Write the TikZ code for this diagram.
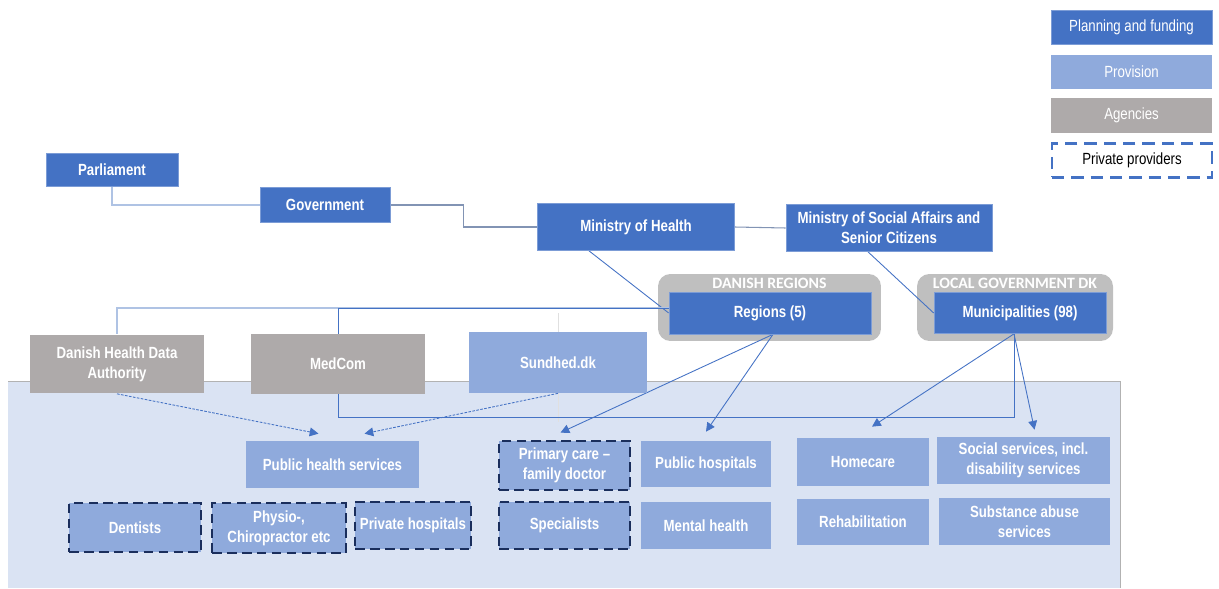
\documentclass[tikz,border=0pt]{standalone}
\usepackage{fontspec}
\setmainfont{Liberation Sans}[FakeStretch=0.82]
\newfontfamily\capsfont{Carlito}
\usetikzlibrary{arrows.meta,calc}

\definecolor{plan}{HTML}{4472C4}
\definecolor{prov}{HTML}{8FAADC}
\definecolor{agency}{HTML}{AEAAAA}
\definecolor{bgblue}{HTML}{DAE3F3}
\definecolor{groupgrey}{HTML}{BFBFBF}
\definecolor{navy}{HTML}{1A2E5C}
\definecolor{lineblue}{HTML}{4472C4}
\definecolor{lightline}{HTML}{AFC3E4}
\definecolor{greyline}{HTML}{8294B4}

\pgfdeclarelayer{bg}
\pgfdeclarelayer{mid}
\pgfsetlayers{bg,mid,main}

\begin{document}
\begin{tikzpicture}[x=0.02cm,y=-0.02cm,
        txt/.style={font=\fontsize{9.2}{11.3}\selectfont\bfseries, text=white, align=center, inner sep=1pt},
        planbox/.style={txt, fill=plan, draw=plan!70!white, line width=0.4pt},
        provbox/.style={txt, fill=prov},
        agencybox/.style={txt, fill=agency},
        privbox/.style={provbox, draw=navy, line width=1.6pt, dash pattern=on 5.5pt off 3pt},
        groupbox/.style={fill=groupgrey, rounded corners=7pt},
        tie/.style={draw=lineblue, line width=0.5pt},
        feed/.style={tie, -{Triangle[length=5pt,width=5pt]}}]
            \useasboundingbox (0,0) rectangle (1219,588);

            % legend
            \node[planbox, font=\fontsize{9.2}{11}\selectfont, minimum width=3.22cm, minimum height=0.68cm] (keyplan) at (1131.5,27) {Planning and funding};
            \node[provbox, font=\fontsize{9.2}{11}\selectfont, minimum width=3.22cm, minimum height=0.68cm] (keyprov) at (1131.5,72) {Provision};
            \node[agencybox, font=\fontsize{9.2}{11}\selectfont, minimum width=3.22cm, minimum height=0.7cm] (keyagency) at (1131.5,115.5) {Agencies};
            \node[draw=plan, line width=1.4pt, dash pattern=on 7pt off 4pt, font=\fontsize{9.2}{11}\selectfont, minimum width=3.2cm, minimum height=0.68cm] (keypriv) at (1132,160.5) {Private providers};

            % top of the chart
            \node[planbox, minimum width=2.64cm, minimum height=0.66cm] (parl) at (112,170) {Parliament};
            \node[planbox, minimum width=2.6cm, minimum height=0.7cm] (gov) at (325,205) {Government};
            \node[planbox, minimum width=3.94cm, minimum height=0.94cm] (moh) at (636,227) {Ministry of Health};
            \node[planbox, minimum width=4.12cm, minimum height=0.94cm] (mosa) at (889,228) {Ministry of Social Affairs and\\Senior Citizens};

            \begin{pgfonlayer}{bg}
                \fill[bgblue] (8,381) rectangle (1120,588);
                \draw[black!30, line width=0.5pt] (8,381) -- (1120,381) -- (1120,588);
                \node[groupbox, minimum width=4.46cm, minimum height=1.34cm] (dreg) at (769.5,307.5) {};
                \node[groupbox, minimum width=3.92cm, minimum height=1.34cm] (lgdk) at (1015,307.5) {};
            \end{pgfonlayer}
            \node[font=\capsfont\fontsize{9}{10}\selectfont\bfseries, text=white, anchor=north, inner sep=1pt] (dregname) at ($(dreg.north)+(0,2)$) {DANISH REGIONS};
            \node[font=\capsfont\fontsize{9}{10}\selectfont\bfseries, text=white, anchor=north, inner sep=1pt] (lgdkname) at ($(lgdk.north)+(0,2)$) {LOCAL GOVERNMENT DK};

            \node[planbox, minimum width=4.04cm, minimum height=0.84cm] (regions) at (770,313) {Regions (5)};
            \node[planbox, minimum width=3.44cm, minimum height=0.82cm] (muni) at (1020,313) {Municipalities (98)};

            % agencies
            \node[agencybox, minimum width=3.48cm, minimum height=1.18cm] (dhda) at (117,364) {Danish Health Data\\Authority};
            \node[agencybox, minimum width=3.48cm, minimum height=1.2cm] (medcom) at (338,364) {MedCom};
            \node[provbox, minimum width=3.56cm, minimum height=1.22cm] (sundhed) at (558,362.5) {Sundhed.dk};

            % providers
            \node[provbox, minimum width=3.46cm, minimum height=0.94cm] (phs) at (332.5,464.5) {Public health services};
            \node[privbox, minimum width=2.62cm, minimum height=0.98cm] (gp) at (564.5,465.5) {Primary care --\\family doctor};
            \node[provbox, minimum width=2.6cm, minimum height=0.92cm] (pubhosp) at (706,464) {Public hospitals};
            \node[provbox, minimum width=2.64cm, minimum height=0.96cm] (homecare) at (863,462) {Homecare};
            \node[provbox, minimum width=3.46cm, minimum height=0.94cm] (social) at (1023.5,460.5) {Social services, incl.\\disability services};

            \node[privbox, minimum width=2.64cm, minimum height=0.98cm] (dentists) at (135,527.5) {Dentists};
            \node[privbox, minimum width=2.68cm, minimum height=1cm] (physio) at (279,528) {Physio-,\\Chiropractor etc};
            \node[privbox, minimum width=2.32cm, minimum height=0.94cm] (privhosp) at (413,525.5) {Private hospitals};
            \node[privbox, minimum width=2.62cm, minimum height=0.94cm] (specialists) at (564.5,525.5) {Specialists};
            \node[provbox, minimum width=2.6cm, minimum height=0.94cm] (mental) at (706,525.5) {Mental health};
            \node[provbox, minimum width=2.64cm, minimum height=0.92cm] (rehab) at (863,522) {Rehabilitation};
            \node[provbox, minimum width=3.42cm, minimum height=0.94cm] (substance) at (1024.5,521.5) {Substance abuse\\services};

            \begin{pgfonlayer}{mid}
                \draw[lightline, line width=0.6pt] (parl.south) |- (gov.west);
                \draw[greyline, line width=0.6pt] (gov.east) -- ++(73,0) |- (moh.west);
                \draw[greyline, line width=0.6pt] (moh.east) -- (mosa.west);
                \draw[tie] ($(moh.south)+(-47,0)$) -- (regions.west);
                \draw[tie] ($(mosa.south)+(-21,0)$) -- (muni.west);

                \draw[lightline, line width=0.6pt] ($(regions.west)+(0,-5)$) -| (dhda.north);
                \draw[black!12, line width=0.5pt] (sundhed.center |- regions.west) -- ++(0,109);
                \draw[tie] ($(regions.west)+(0,-5)$) -| (medcom.north);
                \draw[tie] (medcom.south) -- ++(0,23) -| ($(muni.south)+(-6,0)$);

                \draw[feed, dash pattern=on 1.5pt off 0.8pt] (dhda.south) -- ($(phs.north)+(-14,-7)$);
                \draw[feed, dash pattern=on 1.5pt off 0.8pt] (sundhed.south) -- ($(phs.north)+(32,-7)$);
                \draw[feed] ($(regions.south)+(3,0)$) -- ($(gp.north)+(-4,-7)$);
                \draw[feed] ($(regions.south)+(3,0)$) -- ($(pubhosp.north)+(0,-9)$);
                \draw[feed] ($(muni.south)+(-6,0)$) -- ($(homecare.north)+(9,-11)$);
                \draw[feed] ($(muni.south)+(-6,0)$) -- ($(social.north)+(11,-7)$);
            \end{pgfonlayer}

        \end{tikzpicture}
\end{document}
